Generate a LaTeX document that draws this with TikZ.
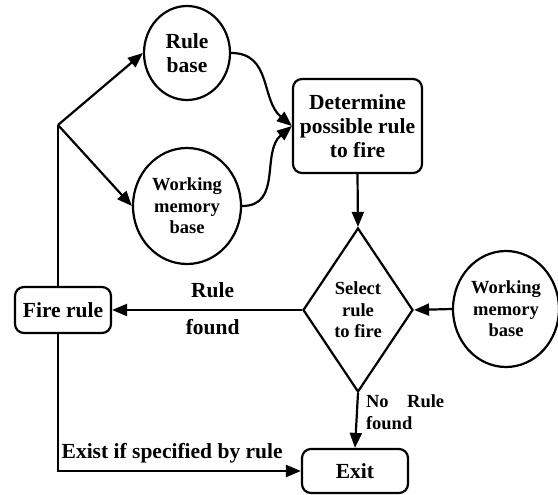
\documentclass[tikz,border=0pt]{standalone}
\usepackage{fontspec}
\setmainfont{Liberation Serif}
\usetikzlibrary{shapes.geometric,arrows.meta}
\begin{document}
\begin{tikzpicture}[x=1pt,y=-1pt,
  every node/.style={inner sep=0pt, align=center},
  big/.style={font=\fontsize{21.5}{24}\selectfont\bfseries},
  small/.style={font=\fontsize{18.5}{21.5}\selectfont\bfseries},
  line/.style={line width=2.2pt},
  flow/.style={line width=2.2pt, -{Triangle[length=15pt,width=12pt]}},
  bubble/.style={ellipse, draw, line width=2.2pt},
  rbox/.style={rectangle, draw, rounded corners=9pt, line width=2.2pt},
]
\useasboundingbox[fill=white] (0,0) rectangle (558,495);

% knowledge sources
\node[bubble, big, minimum width=86pt, minimum height=94pt] (rb) at (187,53) {Rule\\base};
\node[bubble, small, minimum width=108pt, minimum height=116pt] (wm1) at (187,206) {Working\\memory\\base};
\node[bubble, small, minimum width=106pt, minimum height=116pt] (wm2) at (506,309) {Working\\memory\\base};

% process steps
\node[rbox, big, minimum width=129pt, minimum height=94pt] (det) at (357.5,126) {Determine\\possible rule\\to fire};
\node[diamond, draw, line width=2.2pt, small, minimum width=110pt, minimum height=164pt] (sel) at (358,310) {Select\\rule\\to fire};
\node[rbox, big, minimum width=96pt, minimum height=46pt] (fire) at (63,310) {Fire rule};
\node[rbox, big, minimum width=106pt, minimum height=44pt] (exit) at (355,471) {Exit};

% branch points of the feedback loop
\coordinate (j) at (58,125);
\coordinate (c) at (58,471);

% inputs to rule determination
\draw[flow] (rb.east) to[out=0, in=140, looseness=1.1] (det.west);
\draw[flow] (wm1.east) to[out=0, in=220, looseness=1.1] (det.west);

\draw[flow] (det.south) -- (sel.north);
\draw[flow] (wm2.west) -- (sel.east);

\draw[flow] (sel.west) --
  node[big, pos=0.47, anchor=base, yshift=12pt] {Rule}
  node[big, pos=0.47, anchor=base, yshift=-24pt] {found} (fire.east);

\draw[flow] (sel.south) --
  node[small, pos=0.35, anchor=west, xshift=8pt, align=left] {No\quad Rule\\found} (exit.north);

% loop back from firing a rule
\draw[line] (j |- fire.north) -- (j);
\draw[flow] (j) -- (rb.west);
\draw[flow] (j) -- (wm1.west);

\draw[flow] (c |- fire.south) -- (c) --
  node[big, pos=0.47, anchor=base, yshift=13pt] {Exist if specified by rule} (exit.west);
\end{tikzpicture}
\end{document}
